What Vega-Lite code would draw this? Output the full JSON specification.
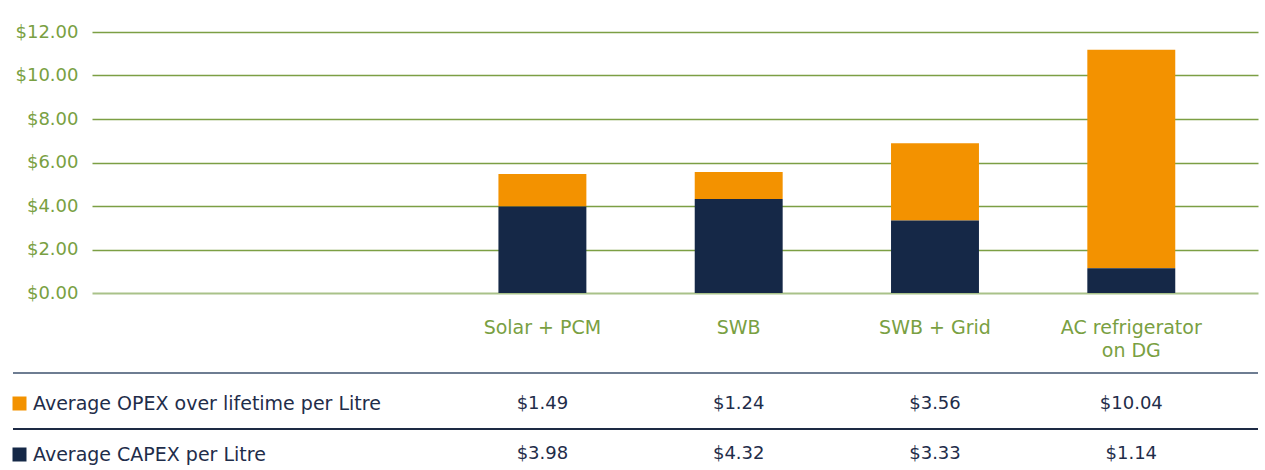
{
  "$schema": "https://vega.github.io/schema/vega-lite/v6.json",
  "width": 1166,
  "height": 261,
  "autosize": "none",
  "padding": {"left": 92, "top": 32, "right": 7, "bottom": 177},
  "background": "white",
  "config": {"view": {"stroke": null}, "font": "DejaVu Sans"},
  "data": {
    "values": [
      {"category": "Solar + PCM", "series": "Average OPEX over lifetime per Litre", "value": 1.49},
      {"category": "SWB", "series": "Average OPEX over lifetime per Litre", "value": 1.24},
      {"category": "SWB + Grid", "series": "Average OPEX over lifetime per Litre", "value": 3.56},
      {"category": "AC refrigerator on DG", "series": "Average OPEX over lifetime per Litre", "value": 10.04},
      {"category": "Solar + PCM", "series": "Average CAPEX per Litre", "value": 3.98},
      {"category": "SWB", "series": "Average CAPEX per Litre", "value": 4.32},
      {"category": "SWB + Grid", "series": "Average CAPEX per Litre", "value": 3.33},
      {"category": "AC refrigerator on DG", "series": "Average CAPEX per Litre", "value": 1.14}
    ]
  },
  "resolve": {"scale": {"x": "independent", "y": "independent"}, "axis": {"x": "independent", "y": "independent"}},
  "layer": [
    {
      "mark": {"type": "bar", "width": {"band": 0.448}},
      "encoding": {
        "x": {
          "field": "category", "type": "nominal", "sort": null,
          "scale": {"type": "band", "domain": ["Solar + PCM", "SWB", "SWB + Grid", "AC refrigerator on DG"], "paddingInner": 0, "paddingOuter": 0.97, "align": 0.925},
          "axis": {
            "title": null, "domain": false, "ticks": false, "labelAngle": 0,
            "labelColor": "#79a042", "labelFontSize": 19, "labelPadding": 25, "labelLineHeight": 23,
            "labelExpr": "datum.value == 'AC refrigerator on DG' ? ['AC refrigerator', 'on DG'] : datum.label"
          }
        },
        "y": {
          "field": "value", "type": "quantitative", "stack": "zero",
          "scale": {"domain": [0, 12], "nice": false},
          "axis": {
            "title": null, "values": [0, 2, 4, 6, 8, 10, 12], "format": "$.2f",
            "domain": false, "ticks": false, "labelPadding": 14,
            "labelColor": "#79a042", "labelFontSize": 18,
            "gridColor": {"condition": {"test": "datum.value === 0", "value": "#a9c289"}, "value": "#7c9f44"},
            "gridWidth": {"condition": {"test": "datum.value === 0", "value": 2}, "value": 1.5}
          }
        },
        "color": {
          "field": "series", "type": "nominal",
          "scale": {"domain": ["Average OPEX over lifetime per Litre", "Average CAPEX per Litre"], "range": ["#f39200", "#152847"]},
          "legend": {
            "title": null, "orient": "none", "legendX": -82, "legendY": 362,
            "symbolType": "square", "symbolSize": 196, "symbolStrokeWidth": 0,
            "labelFontSize": 19, "labelColor": "#1f2d4a", "labelLimit": 600,
            "rowPadding": 31, "padding": 0, "labelOffset": 4, "direction": "vertical"
          }
        },
        "order": {"field": "series", "sort": "ascending"}
      }
    },
    {
      "resolve": {"scale": {"x": "independent", "y": "independent"}, "axis": {"x": "independent", "y": "independent"}},
      "layer": [
        {
          "mark": {"type": "text", "fontSize": 18, "color": "#1f2d4a", "baseline": "middle"},
          "encoding": {
            "x": {
              "field": "category", "type": "nominal", "sort": null,
              "scale": {"type": "band", "domain": ["Solar + PCM", "SWB", "SWB + Grid", "AC refrigerator on DG"], "paddingInner": 0, "paddingOuter": 0.97, "align": 0.925},
              "axis": null
            },
            "y": {
              "field": "series", "type": "nominal",
              "scale": {"type": "point", "domain": ["Average OPEX over lifetime per Litre", "Average CAPEX per Litre"], "range": [372, 422], "padding": 0},
              "axis": null
            },
            "text": {"field": "value", "type": "quantitative", "format": "$.2f"}
          }
        },
        {
          "layer": [
            {
              "mark": {"type": "rule", "color": "#6e7d92", "strokeWidth": 2},
              "encoding": {
                "x": {"datum": 0, "type": "quantitative", "scale": {"domain": [0, 1], "range": [-79, 1166]}, "axis": null},
                "x2": {"datum": 1},
                "y": {"datum": "Average OPEX over lifetime per Litre", "type": "nominal", "bandPosition": 0,
                      "scale": {"type": "band", "domain": ["Average OPEX over lifetime per Litre", "Average CAPEX per Litre"], "range": [341, 453], "paddingInner": 0, "paddingOuter": 0},
                      "axis": null}
              }
            },
            {
              "mark": {"type": "rule", "color": "#1e2b45", "strokeWidth": 1.3},
              "encoding": {
                "x": {"datum": 0, "type": "quantitative", "axis": null},
                "x2": {"datum": 1},
                "y": {"datum": "Average CAPEX per Litre", "type": "nominal", "bandPosition": 0, "axis": null}
              }
            }
          ]
        }
      ]
    }
  ]
}
